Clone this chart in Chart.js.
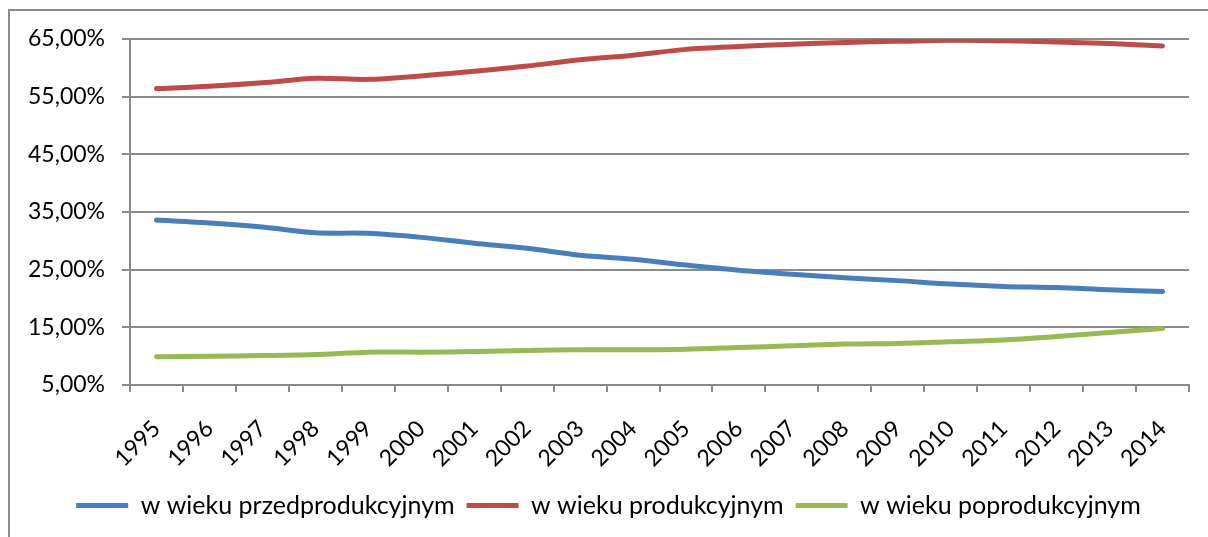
<!DOCTYPE html>
<html>
<head>
<meta charset="utf-8">
<script src="https://cdn.jsdelivr.net/npm/chart.js@4.4.1/dist/chart.umd.min.js"></script>
<style>
html,body{margin:0;padding:0;background:#fff;overflow:hidden}
#wrap{position:relative;width:1208px;height:537px}
#frame{position:absolute;left:8px;top:9px;width:1300px;height:700px;border:2px solid #8a8a8a}
canvas{position:absolute;left:0;top:0}
</style>
</head>
<body>
<div id="wrap">
<div id="frame"></div>
<canvas id="chart" width="1208" height="537"></canvas>
</div>
<script>
/* ================================
   DATA
================================ */

const years = ["1995","1996","1997","1998","1999","2000","2001","2002","2003","2004",
"2005","2006","2007","2008","2009","2010","2011","2012","2013","2014"]

const przed = [33.6,33.1,32.4,31.4,31.3,30.6,29.6,28.7,27.5,26.8,
25.8,24.9,24.2,23.6,23.1,22.5,22.1,21.9,21.5,21.2]

const prod = [56.4,56.8,57.4,58.2,58.0,58.6,59.4,60.3,61.4,62.2,
63.2,63.7,64.1,64.4,64.6,64.8,64.7,64.5,64.2,63.8]

const poprod = [9.9,10.0,10.1,10.3,10.7,10.7,10.8,11.0,11.1,11.1,
11.2,11.5,11.8,12.1,12.2,12.5,12.8,13.4,14.1,14.8]

const seriesNames = ["w wieku przedprodukcyjnym","w wieku produkcyjnym","w wieku poprodukcyjnym"]

const gridColor = "#8a8a8a"
const fontFamily = "Lato"

function line(label,data,color){
return {
label:label,
data:data,
borderColor:color,
backgroundColor:color,
borderWidth:5,
borderCapStyle:"round",
borderJoinStyle:"round",
pointRadius:0,
tension:0.3,
fill:false
}
}

/* legend sits a bit right of the page centre in the original */
const legendShift = {
id:"legendShift",
afterLayout(chart){
chart.legend.left += 14
chart.legend.right += 14
}
}

/* ================================
   CHART
================================ */

new Chart(
document.getElementById("chart"),
{
type:"line",
data:{
labels:years,
datasets:[
line(seriesNames[0],przed,"#4a7ebb"),
line(seriesNames[1],prod,"#be4b48"),
line(seriesNames[2],poprod,"#98b954")
]
},
plugins:[legendShift],
options:{
responsive:false,
animation:false,
layout:{padding:{top:39,right:19,bottom:9,left:0}},
plugins:{
tooltip:{enabled:false},
legend:{
position:"bottom",
labels:{
usePointStyle:true,
pointStyle:"line",
pointStyleWidth:52,
color:"#000",
padding:12,
font:{family:fontFamily,size:25}
}
}
},
scales:{
x:{
offset:true,
grid:{offset:true,drawOnChartArea:false,tickLength:7,color:gridColor,lineWidth:2},
border:{color:gridColor,width:2},
ticks:{minRotation:45,maxRotation:45,padding:23,color:"#000",font:{family:fontFamily,size:23}},
afterFit:s=>{s.height=96}
},
y:{
min:5,
max:65,
grid:{tickLength:8,color:gridColor,lineWidth:2},
border:{color:gridColor,width:2},
ticks:{
stepSize:10,
padding:17,
color:"#000",
font:{family:fontFamily,size:23},
callback:v=>v.toFixed(2).replace(".",",")+"%"
},
afterFit:s=>{s.width=130}
}
}
}
})
</script>
</body>
</html>
